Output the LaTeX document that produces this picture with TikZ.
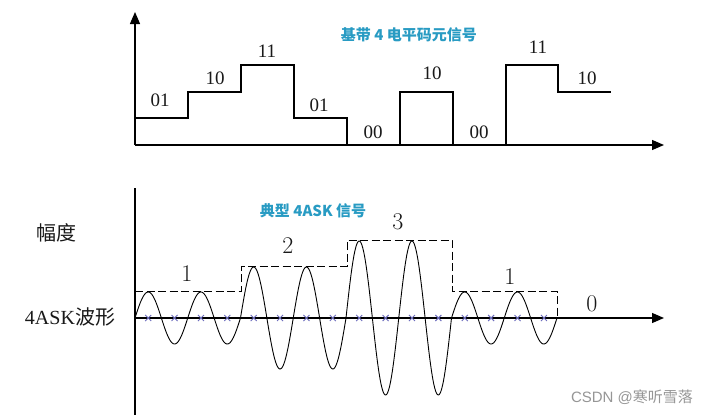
\documentclass[tikz,border=0pt]{standalone}
\usepackage{fontspec}
\newfontfamily\timesf{Liberation Serif}
\newfontfamily\cjk{Noto Sans CJK SC}
\newfontfamily\wmfont{Liberation Sans}
\usetikzlibrary{arrows.meta}
\definecolor{titleteal}{RGB}{40,155,195}
\definecolor{xmark}{RGB}{110,110,190}
\definecolor{labgray}{RGB}{25,25,25}
\definecolor{wmgray}{RGB}{150,150,150}
\tikzset{
  axis/.style={line width=1.3pt,-{Triangle[length=12pt,width=10pt]}},
  plainaxis/.style={line width=1.3pt},
  level/.style={line width=1.1pt},
  envelope/.style={line width=1pt,dash pattern=on 8pt off 3.5pt},
  wave/.style={line width=0.9pt},
  bitlab/.style={font=\timesf\fontsize{19}{21}\selectfont,text=labgray,inner sep=0pt},
  symlab/.style={font=\fontsize{24}{26}\selectfont,text=labgray,inner sep=0pt},
  ttl/.style={font=\cjk\bfseries\fontsize{15}{17}\selectfont,text=titleteal,inner sep=0pt},
  sidelab/.style={font=\fontsize{20}{22}\selectfont,text=labgray,inner sep=0pt},
  xm/.style={xmark,line width=0.9pt}
}
\begin{document}
\begin{tikzpicture}[x=1pt,y=-1pt]
\useasboundingbox (0,0) rectangle (716,415);
\fill[white] (0,0) rectangle (716,415);
% ---------- top plot ----------
\coordinate (o1) at (135,145);
\coordinate (ytop1) at (135,12);
\coordinate (xend1) at (664,145);
\draw[axis] (o1) -- (ytop1);
\draw[axis] (135,145) -- (xend1);
\draw[level] (135,118) -- (188,118) -- (188,92) -- (241,92) -- (241,65) -- (294,65)
  -- (294,118) -- (347,118) -- (347,145);
\draw[level] (400,145) -- (400,92) -- (453,92) -- (453,145);
\draw[level] (506,145) -- (506,65) -- (558,65) -- (558,92) -- (611,92);
\node[bitlab] (b1) at (160,100) {01};
\node[bitlab] (b2) at (215,78) {10};
\node[bitlab] (b3) at (267,51) {11};
\node[bitlab] (b4) at (319,105) {01};
\node[bitlab] (b5) at (373,132) {00};
\node[bitlab] (b6) at (432,73) {10};
\node[bitlab] (b7) at (479,132) {00};
\node[bitlab] (b8) at (538,47) {11};
\node[bitlab] (b9) at (587,78) {10};
\node[ttl] (t1) at (409,35) {基带 4 电平码元信号};
% ---------- bottom plot ----------
\coordinate (o2) at (135,318);
\coordinate (ytop2) at (135,188);
\coordinate (ybot2) at (135,416);
\coordinate (xend2) at (664,318);
\draw[plainaxis] (ybot2) -- (ytop2);
\draw[axis] (o2) -- (xend2);
% envelope
\draw[envelope] (135,291) -- (241,291) -- (241,266) -- (347,266) -- (347,240)
  -- (452,240) -- (452,291) -- (557,291) -- (557,318);
% wave
\def\sw{105.5}
\draw[wave] plot[domain=135:240.5,samples=120,smooth] (\x,{318-26*sin(720*((\x-135)/\sw))});
\draw[wave] plot[domain=240.5:346,samples=120,smooth] (\x,{318-51*sin(720*((\x-135)/\sw))});
\draw[wave] plot[domain=346:451.5,samples=120,smooth] (\x,{318-77*sin(720*((\x-135)/\sw))});
\draw[wave] plot[domain=451.5:557,samples=120,smooth] (\x,{318-26*sin(720*((\x-135)/\sw))});
% x marks
\foreach \k in {0,...,15}{
  \pgfmathsetmacro{\xx}{135+13.19*(2*\k+1)}
  \draw[xm] (\xx-3,315) -- (\xx+3,321) (\xx-3,321) -- (\xx+3,315);
}
\node[symlab] (s1) at (187,274) {1};
\node[symlab] (s2) at (288,246) {2};
\node[symlab] (s3) at (398,222) {3};
\node[symlab] (s4) at (510,277) {1};
\node[symlab] (s0) at (592,304) {0};
\node[ttl] (t2) at (313,211) {典型 4ASK 信号};
\node[sidelab,font=\cjk\fontsize{20}{22}\selectfont] (amp) at (57,233) {幅度};
\node[sidelab] (wlab) at (70,317) {{\timesf 4ASK}{\cjk 波形}};
\node[font=\wmfont\fontsize{15}{17}\selectfont,text=wmgray,inner sep=0pt] (wm) at (632,397) {CSDN @{\cjk 寒听雪落}};
\end{tikzpicture}
\end{document}
